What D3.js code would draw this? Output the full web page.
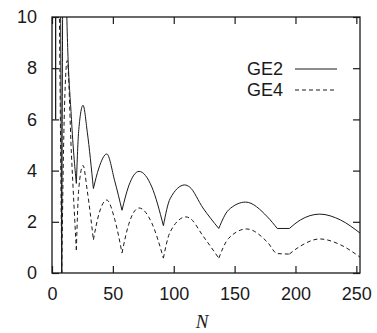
<!DOCTYPE html>
<html>
<head>
<meta charset="utf-8">
<script src="https://cdn.jsdelivr.net/npm/d3@7"></script>
<style>
  html, body { margin: 0; padding: 0; background: #fff; }
  svg { display: block; }
</style>
</head>
<body>
<svg id="chart" width="377" height="333"></svg>
<script>
// ---- data ----
const xTicks = [0, 50, 100, 150, 200, 250];
const yTicks = [0, 2, 4, 6, 8, 10];
const seriesNames = ["GE2", "GE4"];

const ge2N = [2, 3, 4, 7, 8, 10, 12, 16, 20, 22, 25.5, 29, 34, 38.5, 45, 51.5, 57.5, 63, 71.5, 82, 91.5, 97, 109, 113, 124, 137, 145, 159, 177, 185, 195, 204, 220, 237, 253];
const ge2V = [40, 6, 30, 11, 0, 20, 10.4, 6.0, 3.5, 5.6, 6.55, 5.5, 3.3, 4.1, 4.65, 3.6, 2.45, 3.4, 3.97, 3.36, 1.85, 2.9, 3.44, 3.36, 2.54, 1.74, 2.46, 2.77, 2.19, 1.74, 1.74, 2.07, 2.3, 2.07, 1.56];

const ge4N = [2, 4, 6, 8, 10, 12.5, 16, 20, 22, 25.5, 29, 34, 38.5, 45, 51.5, 57.5, 63, 71.5, 82, 91.5, 97, 110, 113, 124, 137, 145, 160, 177, 185, 195, 204, 220, 237, 253];
const ge4V = [40, 20, 10.5, 0, 6, 8.3, 4.6, 0.9, 3.3, 4.2, 3.2, 1.3, 2.3, 2.85, 2.1, 0.78, 1.9, 2.54, 1.95, 0.58, 1.6, 2.19, 2.15, 1.45, 0.58, 1.35, 1.72, 1.2, 0.76, 0.74, 1.05, 1.33, 1.1, 0.62];

// ---- layout ----
const svg = d3.select("#chart");
const L = 52, T = 17, R = 360, B = 273;
const x = d3.scaleLinear().domain([0, 253]).range([L, R]);
const y = d3.scaleLinear().domain([0, 10]).range([B, T]);
const ink = "#1a1a1a";
const tickLen = 7;

svg.append("defs").append("clipPath").attr("id", "plotclip")
  .append("rect").attr("x", L).attr("y", T).attr("width", R - L).attr("height", B - T);

// split a series at its local minima so the minima stay as sharp cusps
function segments(ns, vs) {
  const pts = ns.map((n, i) => [n, vs[i]]);
  const segs = [];
  let cur = [pts[0]];
  for (let i = 1; i < pts.length; i++) {
    cur.push(pts[i]);
    const isMin = i < pts.length - 1 && pts[i][1] <= pts[i - 1][1] && pts[i][1] <= pts[i + 1][1];
    if (isMin) { segs.push(cur); cur = [pts[i]]; }
  }
  if (cur.length > 1) segs.push(cur);
  return segs;
}

const line = d3.line().x(d => x(d[0])).y(d => y(d[1])).curve(d3.curveMonotoneX);
const plot = svg.append("g").attr("clip-path", "url(#plotclip)");

const series = [
  { name: seriesNames[0], n: ge2N, v: ge2V, dash: null },
  { name: seriesNames[1], n: ge4N, v: ge4V, dash: "4,3" }
];
series.forEach(s => {
  plot.append("g").selectAll("path").data(segments(s.n, s.v)).join("path")
    .attr("d", line)
    .attr("fill", "none")
    .attr("stroke", ink)
    .attr("stroke-width", 1)
    .attr("stroke-dasharray", s.dash);
});

// ---- axes (ticks inward on all four sides) ----
const fontAxis = "'Liberation Sans', Arial, Helvetica, sans-serif";
const axB = svg.append("g").attr("transform", `translate(0,${B})`)
  .call(d3.axisBottom(x).tickValues(xTicks).tickSize(-tickLen).tickPadding(14).tickFormat(d3.format("d")));
const axT = svg.append("g").attr("transform", `translate(0,${T})`)
  .call(d3.axisTop(x).tickValues(xTicks).tickSize(-tickLen).tickFormat(""));
const axL = svg.append("g").attr("transform", `translate(${L},0)`)
  .call(d3.axisLeft(y).tickValues(yTicks).tickSize(-tickLen).tickPadding(15).tickFormat(d3.format("d")));
const axR = svg.append("g").attr("transform", `translate(${R},0)`)
  .call(d3.axisRight(y).tickValues(yTicks).tickSize(-tickLen).tickFormat(""));
[axB, axT, axL, axR].forEach(a => {
  a.select(".domain").remove();
  a.selectAll(".tick line").attr("stroke", ink).attr("stroke-width", 1.2);
  a.selectAll("text").attr("fill", ink).style("font-family", fontAxis).style("font-size", "18px");
});
axB.selectAll("text").attr("dy", "0.71em");

svg.append("rect").attr("x", L).attr("y", T).attr("width", R - L).attr("height", B - T)
  .attr("fill", "none").attr("stroke", ink).attr("stroke-width", 1.3);

// axis title
svg.append("text").attr("x", (L + R) / 2 - 4).attr("y", 328)
  .attr("text-anchor", "middle")
  .style("font-family", "'Liberation Serif', 'Times New Roman', serif")
  .style("font-style", "italic").style("font-size", "19px").attr("fill", ink)
  .text("N");

// legend
const leg = svg.append("g");
series.forEach((s, i) => {
  const ly = 69 + i * 21;
  leg.append("text").attr("x", 283).attr("y", ly).attr("dy", "0.35em")
    .attr("text-anchor", "end")
    .style("font-family", fontAxis).style("font-size", "18px").attr("fill", ink)
    .text(s.name);
  leg.append("line").attr("x1", 295).attr("x2", 337).attr("y1", ly).attr("y2", ly)
    .attr("stroke", ink).attr("stroke-width", 1).attr("stroke-dasharray", s.dash);
});
</script>
</body>
</html>
